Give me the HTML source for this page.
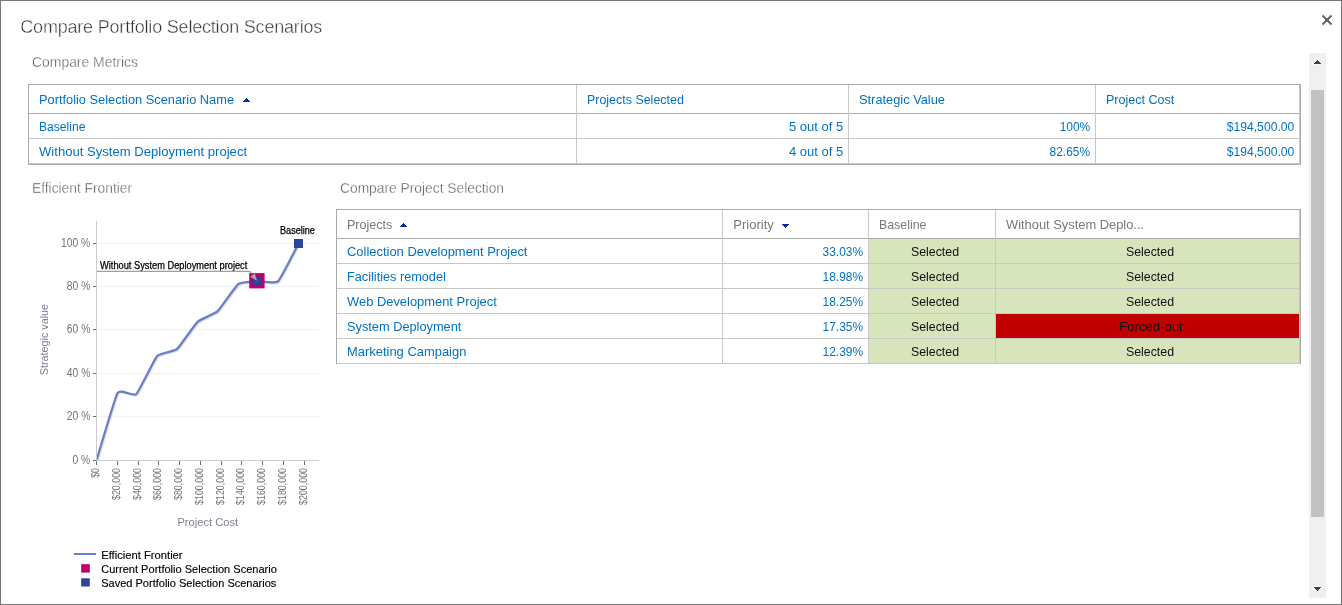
<!DOCTYPE html>
<html><head><meta charset="utf-8"><title>Compare Portfolio Selection Scenarios</title>
<style>
html,body{margin:0;padding:0;background:#fff;}
body{width:1342px;height:605px;overflow:hidden;position:relative;font-family:"Liberation Sans",Arial,sans-serif;}
.t{position:absolute;white-space:nowrap;}
.l{position:absolute;}
.frame{position:absolute;left:0;top:0;width:1342px;height:605px;box-sizing:border-box;border:1px solid #767676;}
svg{position:absolute;left:0;top:0;overflow:visible;}
</style></head><body>
<div class="frame"></div>

<div class="t" style="left:20.30px;top:17.70px;font-size:18px;line-height:18px;color:#333;letter-spacing:-0.2px;-webkit-text-stroke:0.4px #fff;">Compare Portfolio Selection Scenarios</div>
<svg width="1342" height="605" style="pointer-events:none"><path d="M1322.5 15.5 L1331.5 24.5 M1331.5 15.5 L1322.5 24.5" stroke="#646464" stroke-width="2" fill="none"/><rect x="1325.2" y="18.2" width="3.6" height="3.6" fill="#646464"/></svg>
<div class="l" style="left:1309px;top:53px;width:17px;height:545px;background:#f0f0f0"></div>
<div class="l" style="left:1311px;top:90px;width:13px;height:427px;background:#c2c2c2"></div>
<div class="l" style="left:1317px;top:59px;width:1px;height:1px;background:#f9f9f9"></div>
<div class="l" style="left:1317px;top:591px;width:1px;height:1px;background:#f9f9f9"></div>
<div class="l" style="left:1316px;top:60px;width:3px;height:1px;background:#f9f9f9"></div>
<div class="l" style="left:1316px;top:590px;width:3px;height:1px;background:#f9f9f9"></div>
<div class="l" style="left:1315px;top:61px;width:5px;height:1px;background:#f9f9f9"></div>
<div class="l" style="left:1315px;top:589px;width:5px;height:1px;background:#f9f9f9"></div>
<div class="l" style="left:1314px;top:62px;width:7px;height:1px;background:#f9f9f9"></div>
<div class="l" style="left:1314px;top:588px;width:7px;height:1px;background:#f9f9f9"></div>
<div class="l" style="left:1313px;top:63px;width:9px;height:1px;background:#f9f9f9"></div>
<div class="l" style="left:1313px;top:587px;width:9px;height:1px;background:#f9f9f9"></div>
<div class="l" style="left:1314px;top:64px;width:7px;height:1px;background:#f9f9f9"></div>
<div class="l" style="left:1314px;top:586px;width:7px;height:1px;background:#f9f9f9"></div>
<div class="l" style="left:1317px;top:60px;width:1px;height:1px;background:#404040"></div>
<div class="l" style="left:1316px;top:61px;width:3px;height:1px;background:#404040"></div>
<div class="l" style="left:1315px;top:62px;width:5px;height:1px;background:#404040"></div>
<div class="l" style="left:1314px;top:63px;width:7px;height:1px;background:#404040"></div>
<div class="l" style="left:1314px;top:587px;width:7px;height:1px;background:#404040"></div>
<div class="l" style="left:1315px;top:588px;width:5px;height:1px;background:#404040"></div>
<div class="l" style="left:1316px;top:589px;width:3px;height:1px;background:#404040"></div>
<div class="l" style="left:1317px;top:590px;width:1px;height:1px;background:#404040"></div>
<div class="t" style="left:32.00px;top:55.15px;font-size:14.5px;line-height:14.5px;color:#555;transform:scaleX(0.96);transform-origin:left;-webkit-text-stroke:0.35px #fff;">Compare Metrics</div>
<div class="t" style="left:32.00px;top:180.75px;font-size:14.5px;line-height:14.5px;color:#555;transform:scaleX(0.95);transform-origin:left;-webkit-text-stroke:0.35px #fff;">Efficient Frontier</div>
<div class="t" style="left:340.30px;top:180.75px;font-size:14.5px;line-height:14.5px;color:#555;transform:scaleX(0.951);transform-origin:left;-webkit-text-stroke:0.35px #fff;">Compare Project Selection</div>
<div class="l" style="left:28px;top:84px;width:1273px;height:1px;background:#ababab"></div>
<div class="l" style="left:28px;top:84px;width:1px;height:81px;background:#ababab"></div>
<div class="l" style="left:1300px;top:84px;width:1px;height:81px;background:#ababab"></div>
<div class="l" style="left:28px;top:164px;width:1273px;height:1px;background:#ababab"></div>
<div class="l" style="left:29px;top:113px;width:1271px;height:1px;background:#ababab"></div>
<div class="l" style="left:29px;top:138px;width:1271px;height:1px;background:#c8c8c8"></div>
<div class="l" style="left:29px;top:163px;width:1271px;height:1px;background:#c8c8c8"></div>
<div class="l" style="left:576px;top:85px;width:1px;height:79px;background:#c8c8c8"></div>
<div class="l" style="left:848px;top:85px;width:1px;height:79px;background:#c8c8c8"></div>
<div class="l" style="left:1095px;top:85px;width:1px;height:79px;background:#c8c8c8"></div>
<div class="l" style="left:1299px;top:85px;width:1px;height:79px;background:#c8c8c8"></div>
<div class="t" style="left:39.40px;top:93.00px;font-size:13px;line-height:13px;color:#0072c6;transform:scaleX(0.985);transform-origin:left;">Portfolio Selection Scenario Name</div>
<div class="l" style="left:246px;top:98px;width:1px;height:1px;background:#0a2a9e"></div>
<div class="l" style="left:245px;top:99px;width:3px;height:1px;background:#0a2a9e"></div>
<div class="l" style="left:244px;top:100px;width:5px;height:1px;background:#0a2a9e"></div>
<div class="l" style="left:243px;top:101px;width:7px;height:1px;background:#0a2a9e"></div>
<div class="t" style="left:587.30px;top:93.00px;font-size:13px;line-height:13px;color:#0072c6;transform:scaleX(0.957);transform-origin:left;">Projects Selected</div>
<div class="t" style="left:859.10px;top:93.00px;font-size:13px;line-height:13px;color:#0072c6;transform:scaleX(0.986);transform-origin:left;">Strategic Value</div>
<div class="t" style="left:1105.60px;top:93.00px;font-size:13px;line-height:13px;color:#0072c6;transform:scaleX(0.962);transform-origin:left;">Project Cost</div>
<div class="t" style="left:39.40px;top:120.00px;font-size:13px;line-height:13px;color:#0072c6;transform:scaleX(0.93);transform-origin:left;">Baseline</div>
<div class="t" style="left:39.40px;top:145.00px;font-size:13px;line-height:13px;color:#0072c6;transform:scaleX(1.007);transform-origin:left;">Without System Deployment project</div>
<div class="t" style="right:498.80px;top:120.00px;font-size:13px;line-height:13px;color:#0072c6;">5 out of 5</div>
<div class="t" style="right:252.00px;top:120.00px;font-size:13px;line-height:13px;color:#0072c6;transform:scaleX(0.92);transform-origin:right;">100%</div>
<div class="t" style="right:47.70px;top:120.00px;font-size:13px;line-height:13px;color:#0072c6;transform:scaleX(0.935);transform-origin:right;">$194,500.00</div>
<div class="t" style="right:498.80px;top:145.00px;font-size:13px;line-height:13px;color:#0072c6;">4 out of 5</div>
<div class="t" style="right:252.00px;top:145.00px;font-size:13px;line-height:13px;color:#0072c6;transform:scaleX(0.92);transform-origin:right;">82.65%</div>
<div class="t" style="right:47.70px;top:145.00px;font-size:13px;line-height:13px;color:#0072c6;transform:scaleX(0.935);transform-origin:right;">$194,500.00</div>
<div class="l" style="left:869px;top:239px;width:126px;height:24px;background:#d8e4bc"></div>
<div class="l" style="left:996px;top:239px;width:303px;height:24px;background:#d8e4bc"></div>
<div class="l" style="left:869px;top:264px;width:126px;height:24px;background:#d8e4bc"></div>
<div class="l" style="left:996px;top:264px;width:303px;height:24px;background:#d8e4bc"></div>
<div class="l" style="left:869px;top:289px;width:126px;height:24px;background:#d8e4bc"></div>
<div class="l" style="left:996px;top:289px;width:303px;height:24px;background:#d8e4bc"></div>
<div class="l" style="left:869px;top:314px;width:126px;height:24px;background:#d8e4bc"></div>
<div class="l" style="left:996px;top:314px;width:303px;height:24px;background:#c00000"></div>
<div class="l" style="left:869px;top:339px;width:126px;height:24px;background:#d8e4bc"></div>
<div class="l" style="left:996px;top:339px;width:303px;height:24px;background:#d8e4bc"></div>
<div class="l" style="left:336px;top:209px;width:965px;height:1px;background:#ababab"></div>
<div class="l" style="left:336px;top:209px;width:1px;height:155px;background:#ababab"></div>
<div class="l" style="left:1300px;top:209px;width:1px;height:155px;background:#ababab"></div>
<div class="l" style="left:337px;top:238px;width:963px;height:1px;background:#ababab"></div>
<div class="l" style="left:337px;top:263px;width:963px;height:1px;background:#c8c8c8"></div>
<div class="l" style="left:337px;top:288px;width:963px;height:1px;background:#c8c8c8"></div>
<div class="l" style="left:337px;top:313px;width:963px;height:1px;background:#c8c8c8"></div>
<div class="l" style="left:337px;top:338px;width:963px;height:1px;background:#c8c8c8"></div>
<div class="l" style="left:337px;top:363px;width:963px;height:1px;background:#c8c8c8"></div>
<div class="l" style="left:722px;top:210px;width:1px;height:153px;background:#c8c8c8"></div>
<div class="l" style="left:868px;top:210px;width:1px;height:153px;background:#c8c8c8"></div>
<div class="l" style="left:995px;top:210px;width:1px;height:153px;background:#c8c8c8"></div>
<div class="l" style="left:1299px;top:210px;width:1px;height:153px;background:#c8c8c8"></div>
<div class="t" style="left:346.80px;top:218.00px;font-size:13px;line-height:13px;color:#787878;transform:scaleX(0.965);transform-origin:left;">Projects</div>
<div class="l" style="left:403px;top:223px;width:1px;height:1px;background:#0a2a9e"></div>
<div class="l" style="left:402px;top:224px;width:3px;height:1px;background:#0a2a9e"></div>
<div class="l" style="left:401px;top:225px;width:5px;height:1px;background:#0a2a9e"></div>
<div class="l" style="left:400px;top:226px;width:7px;height:1px;background:#0a2a9e"></div>
<div class="l" style="left:782px;top:224px;width:7px;height:1px;background:#0a2a9e"></div>
<div class="l" style="left:783px;top:225px;width:5px;height:1px;background:#0a2a9e"></div>
<div class="l" style="left:784px;top:226px;width:3px;height:1px;background:#0a2a9e"></div>
<div class="l" style="left:785px;top:227px;width:1px;height:1px;background:#0a2a9e"></div>
<div class="t" style="left:733.30px;top:218.00px;font-size:13px;line-height:13px;color:#787878;">Priority</div>
<div class="t" style="left:878.60px;top:218.00px;font-size:13px;line-height:13px;color:#787878;transform:scaleX(0.95);transform-origin:left;">Baseline</div>
<div class="t" style="left:1006.20px;top:218.00px;font-size:13px;line-height:13px;color:#787878;transform:scaleX(0.99);transform-origin:left;">Without System Deplo...</div>
<div class="t" style="left:347.20px;top:245.00px;font-size:13px;line-height:13px;color:#0072c6;transform:scaleX(0.995);transform-origin:left;">Collection Development Project</div>
<div class="t" style="right:478.80px;top:245.00px;font-size:13px;line-height:13px;color:#0072c6;transform:scaleX(0.92);transform-origin:right;">33.03%</div>
<div class="t" style="left:734.50px;width:400px;text-align:center;top:245.00px;font-size:13px;line-height:13px;color:#111;transform:scaleX(0.95);transform-origin:center;">Selected</div>
<div class="t" style="left:949.70px;width:400px;text-align:center;top:245.00px;font-size:13px;line-height:13px;color:#111;transform:scaleX(0.95);transform-origin:center;">Selected</div>
<div class="t" style="left:347.20px;top:270.00px;font-size:13px;line-height:13px;color:#0072c6;transform:scaleX(0.977);transform-origin:left;">Facilities remodel</div>
<div class="t" style="right:478.80px;top:270.00px;font-size:13px;line-height:13px;color:#0072c6;transform:scaleX(0.92);transform-origin:right;">18.98%</div>
<div class="t" style="left:734.50px;width:400px;text-align:center;top:270.00px;font-size:13px;line-height:13px;color:#111;transform:scaleX(0.95);transform-origin:center;">Selected</div>
<div class="t" style="left:949.70px;width:400px;text-align:center;top:270.00px;font-size:13px;line-height:13px;color:#111;transform:scaleX(0.95);transform-origin:center;">Selected</div>
<div class="t" style="left:347.20px;top:295.00px;font-size:13px;line-height:13px;color:#0072c6;transform:scaleX(0.993);transform-origin:left;">Web Development Project</div>
<div class="t" style="right:478.80px;top:295.00px;font-size:13px;line-height:13px;color:#0072c6;transform:scaleX(0.92);transform-origin:right;">18.25%</div>
<div class="t" style="left:734.50px;width:400px;text-align:center;top:295.00px;font-size:13px;line-height:13px;color:#111;transform:scaleX(0.95);transform-origin:center;">Selected</div>
<div class="t" style="left:949.70px;width:400px;text-align:center;top:295.00px;font-size:13px;line-height:13px;color:#111;transform:scaleX(0.95);transform-origin:center;">Selected</div>
<div class="t" style="left:347.20px;top:320.00px;font-size:13px;line-height:13px;color:#0072c6;transform:scaleX(0.983);transform-origin:left;">System Deployment</div>
<div class="t" style="right:478.80px;top:320.00px;font-size:13px;line-height:13px;color:#0072c6;transform:scaleX(0.92);transform-origin:right;">17.35%</div>
<div class="t" style="left:734.50px;width:400px;text-align:center;top:320.00px;font-size:13px;line-height:13px;color:#111;transform:scaleX(0.95);transform-origin:center;">Selected</div>
<div class="t" style="left:950.60px;width:400px;text-align:center;top:320.00px;font-size:13px;line-height:13px;color:#111;transform:scaleX(1.01);transform-origin:center;">Forced-out</div>
<div class="t" style="left:347.20px;top:345.00px;font-size:13px;line-height:13px;color:#0072c6;transform:scaleX(0.995);transform-origin:left;">Marketing Campaign</div>
<div class="t" style="right:478.80px;top:345.00px;font-size:13px;line-height:13px;color:#0072c6;transform:scaleX(0.92);transform-origin:right;">12.39%</div>
<div class="t" style="left:734.50px;width:400px;text-align:center;top:345.00px;font-size:13px;line-height:13px;color:#111;transform:scaleX(0.95);transform-origin:center;">Selected</div>
<div class="t" style="left:949.70px;width:400px;text-align:center;top:345.00px;font-size:13px;line-height:13px;color:#111;transform:scaleX(0.95);transform-origin:center;">Selected</div>
<svg width="1342" height="605" style="font-family:'Liberation Sans',Arial,sans-serif">
<line x1="97" y1="243.5" x2="319" y2="243.5" stroke="#f0f0fc" stroke-width="1"/>
<line x1="97" y1="286.5" x2="319" y2="286.5" stroke="#f0f0fc" stroke-width="1"/>
<line x1="97" y1="329.5" x2="319" y2="329.5" stroke="#f0f0fc" stroke-width="1"/>
<line x1="97" y1="373.5" x2="319" y2="373.5" stroke="#f0f0fc" stroke-width="1"/>
<line x1="97" y1="416.5" x2="319" y2="416.5" stroke="#f0f0fc" stroke-width="1"/>
<line x1="96.5" y1="221" x2="96.5" y2="461" stroke="#cccccc" stroke-width="1"/>
<line x1="96" y1="460.5" x2="319" y2="460.5" stroke="#cccccc" stroke-width="1"/>
<line x1="93" y1="243.5" x2="96" y2="243.5" stroke="#707070" stroke-width="1"/>
<text x="90.3" y="246.9" font-size="12.5" fill="#747474" text-anchor="end" textLength="29.24" lengthAdjust="spacingAndGlyphs">100 %</text>
<line x1="93" y1="286.5" x2="96" y2="286.5" stroke="#707070" stroke-width="1"/>
<text x="90.3" y="289.9" font-size="12.5" fill="#747474" text-anchor="end" textLength="23.50" lengthAdjust="spacingAndGlyphs">80 %</text>
<line x1="93" y1="329.5" x2="96" y2="329.5" stroke="#707070" stroke-width="1"/>
<text x="90.3" y="332.9" font-size="12.5" fill="#747474" text-anchor="end" textLength="23.50" lengthAdjust="spacingAndGlyphs">60 %</text>
<line x1="93" y1="373.5" x2="96" y2="373.5" stroke="#707070" stroke-width="1"/>
<text x="90.3" y="376.9" font-size="12.5" fill="#747474" text-anchor="end" textLength="23.50" lengthAdjust="spacingAndGlyphs">40 %</text>
<line x1="93" y1="416.5" x2="96" y2="416.5" stroke="#707070" stroke-width="1"/>
<text x="90.3" y="419.9" font-size="12.5" fill="#747474" text-anchor="end" textLength="23.50" lengthAdjust="spacingAndGlyphs">20 %</text>
<line x1="93" y1="460.5" x2="96" y2="460.5" stroke="#707070" stroke-width="1"/>
<text x="90.3" y="463.9" font-size="12.5" fill="#747474" text-anchor="end" textLength="17.77" lengthAdjust="spacingAndGlyphs">0 %</text>
<line x1="96.5" y1="461" x2="96.5" y2="465" stroke="#707070" stroke-width="1"/>
<text transform="translate(98.80,468.0) rotate(-90)" font-size="10" fill="#747474" text-anchor="end" textLength="9.84" lengthAdjust="spacingAndGlyphs">$0</text>
<line x1="117.5" y1="461" x2="117.5" y2="465" stroke="#707070" stroke-width="1"/>
<text transform="translate(119.80,468.0) rotate(-90)" font-size="10" fill="#747474" text-anchor="end" textLength="31.98" lengthAdjust="spacingAndGlyphs">$20,000</text>
<line x1="138.5" y1="461" x2="138.5" y2="465" stroke="#707070" stroke-width="1"/>
<text transform="translate(140.80,468.0) rotate(-90)" font-size="10" fill="#747474" text-anchor="end" textLength="31.98" lengthAdjust="spacingAndGlyphs">$40,000</text>
<line x1="158.5" y1="461" x2="158.5" y2="465" stroke="#707070" stroke-width="1"/>
<text transform="translate(160.80,468.0) rotate(-90)" font-size="10" fill="#747474" text-anchor="end" textLength="31.98" lengthAdjust="spacingAndGlyphs">$60,000</text>
<line x1="179.5" y1="461" x2="179.5" y2="465" stroke="#707070" stroke-width="1"/>
<text transform="translate(181.80,468.0) rotate(-90)" font-size="10" fill="#747474" text-anchor="end" textLength="31.98" lengthAdjust="spacingAndGlyphs">$80,000</text>
<line x1="200.5" y1="461" x2="200.5" y2="465" stroke="#707070" stroke-width="1"/>
<text transform="translate(202.80,468.0) rotate(-90)" font-size="10" fill="#747474" text-anchor="end" textLength="36.91" lengthAdjust="spacingAndGlyphs">$100,000</text>
<line x1="221.5" y1="461" x2="221.5" y2="465" stroke="#707070" stroke-width="1"/>
<text transform="translate(223.80,468.0) rotate(-90)" font-size="10" fill="#747474" text-anchor="end" textLength="36.91" lengthAdjust="spacingAndGlyphs">$120,000</text>
<line x1="241.5" y1="461" x2="241.5" y2="465" stroke="#707070" stroke-width="1"/>
<text transform="translate(243.80,468.0) rotate(-90)" font-size="10" fill="#747474" text-anchor="end" textLength="36.91" lengthAdjust="spacingAndGlyphs">$140,000</text>
<line x1="262.5" y1="461" x2="262.5" y2="465" stroke="#707070" stroke-width="1"/>
<text transform="translate(264.80,468.0) rotate(-90)" font-size="10" fill="#747474" text-anchor="end" textLength="36.91" lengthAdjust="spacingAndGlyphs">$160,000</text>
<line x1="283.5" y1="461" x2="283.5" y2="465" stroke="#707070" stroke-width="1"/>
<text transform="translate(285.80,468.0) rotate(-90)" font-size="10" fill="#747474" text-anchor="end" textLength="36.91" lengthAdjust="spacingAndGlyphs">$180,000</text>
<line x1="304.5" y1="461" x2="304.5" y2="465" stroke="#707070" stroke-width="1"/>
<text transform="translate(306.80,468.0) rotate(-90)" font-size="10" fill="#747474" text-anchor="end" textLength="36.91" lengthAdjust="spacingAndGlyphs">$200,000</text>
<text transform="translate(48.1,339.6) rotate(-90)" font-size="11" fill="#808090" text-anchor="middle" textLength="71.3" lengthAdjust="spacingAndGlyphs">Strategic value</text>
<text x="207.8" y="525.9" font-size="11" fill="#808090" text-anchor="middle" textLength="60.8" lengthAdjust="spacingAndGlyphs">Project Cost</text>
<defs><clipPath id="plotclip"><rect x="97" y="200" width="223" height="260"/></clipPath></defs><g clip-path="url(#plotclip)">
<path d="M96.50 460.50 C97.98 455.77 114.82 397.64 117.60 393.00 C120.38 388.36 133.43 396.79 136.20 394.20 C138.97 391.61 154.35 359.15 157.20 356.00 C160.05 352.85 174.07 351.59 176.90 349.20 C179.73 346.81 194.76 324.45 197.60 321.80 C200.44 319.15 214.54 314.05 217.40 311.40 C220.26 308.75 235.63 286.11 238.40 284.00 C241.17 281.89 254.23 281.39 257.00 281.20 C259.77 281.01 275.10 283.93 278.00 281.30 C280.90 278.67 297.06 246.24 298.50 243.60" transform="translate(1,1)" stroke="#e4e4e4" stroke-width="2.3" fill="none" stroke-linejoin="round" stroke-linecap="round"/>
<path d="M96.50 460.50 C97.98 455.77 114.82 397.64 117.60 393.00 C120.38 388.36 133.43 396.79 136.20 394.20 C138.97 391.61 154.35 359.15 157.20 356.00 C160.05 352.85 174.07 351.59 176.90 349.20 C179.73 346.81 194.76 324.45 197.60 321.80 C200.44 319.15 214.54 314.05 217.40 311.40 C220.26 308.75 235.63 286.11 238.40 284.00 C241.17 281.89 254.23 281.39 257.00 281.20 C259.77 281.01 275.10 283.93 278.00 281.30 C280.90 278.67 297.06 246.24 298.50 243.60" stroke="#6a7ec9" stroke-width="2.3" fill="none" stroke-linejoin="round" stroke-linecap="round"/>
</g>
<rect x="294" y="239" width="9" height="9" fill="#2c4697"/>
<rect x="249.2" y="273.1" width="15.4" height="15.3" fill="#bf006e"/>
<rect x="252.3" y="276.4" width="9.2" height="9.1" fill="#5a1f8a"/>
<rect x="253" y="277" width="8" height="8" fill="#2c4697"/>
<text x="280" y="233.9" font-size="10" fill="#000" stroke="#000" stroke-width="0.25" textLength="34.9" lengthAdjust="spacingAndGlyphs">Baseline</text>
<text x="100" y="269.3" font-size="10" fill="#000" stroke="#000" stroke-width="0.25" textLength="147.3" lengthAdjust="spacingAndGlyphs">Without System Deployment project</text>
<path d="M97 271.4 L249 271.4 Q250.5 271.4 251.5 273.5" stroke="#a0a0a0" stroke-width="1.2" fill="none"/>
<path d="M250.3 276.8 L254.8 273.2 L257 280.8 Z" fill="#a8a8a8"/>
<rect x="74" y="553" width="22" height="2" fill="#6a7ec9"/>
<rect x="81.2" y="564.2" width="8.6" height="8.4" fill="#bf006e"/>
<rect x="81.2" y="578.3" width="8.6" height="8.2" fill="#2c4697"/>
<text x="101.2" y="558.7" font-size="11.6" fill="#000" stroke="#000" stroke-width="0.15" textLength="81.4" lengthAdjust="spacingAndGlyphs">Efficient Frontier</text>
<text x="101.2" y="573.0" font-size="11.6" fill="#000" stroke="#000" stroke-width="0.15" textLength="175.7" lengthAdjust="spacingAndGlyphs">Current Portfolio Selection Scenario</text>
<text x="101.2" y="586.6" font-size="11.6" fill="#000" stroke="#000" stroke-width="0.15" textLength="175.2" lengthAdjust="spacingAndGlyphs">Saved Portfolio Selection Scenarios</text>
</svg>
</body></html>
